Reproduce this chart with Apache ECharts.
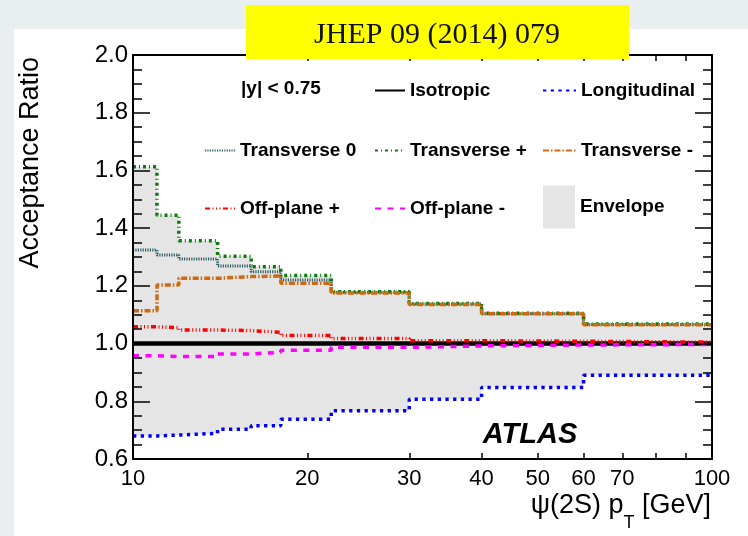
<!DOCTYPE html>
<html>
<head>
<meta charset="utf-8">
<script src="https://cdn.jsdelivr.net/npm/echarts@6/dist/echarts.min.js"></script>
<style>
  html, body { margin: 0; padding: 0; background: #e9eff0; }
  #chart { width: 748px; height: 536px; }
</style>
</head>
<body>
<div id="chart"></div>
<script>
// pT bin edges [GeV] and axis tick/label values
const binEdges = [10, 11, 12, 14, 16, 18, 22, 30, 40, 60, 100];
const xTickValues = [20, 30, 40, 50, 60, 70, 80, 90];
const xLabelValues = [10, 20, 30, 40, 50, 60, 70, 100];

// Acceptance ratio per pT bin for each spin-alignment scenario
const isotropic       = [1.000, 1.000, 1.000, 1.000, 1.000, 1.000, 1.000, 1.000, 1.000, 1.000];
const longitudinal    = [0.680, 0.683, 0.689, 0.703, 0.715, 0.738, 0.767, 0.807, 0.848, 0.890];
const transverse0     = [1.324, 1.307, 1.293, 1.269, 1.249, 1.220, 1.178, 1.137, 1.103, 1.066];
const transversePlus  = [1.613, 1.445, 1.356, 1.303, 1.266, 1.236, 1.180, 1.139, 1.105, 1.068];
const transverseMinus = [1.114, 1.203, 1.226, 1.232, 1.234, 1.209, 1.175, 1.135, 1.103, 1.065];
const offPlanePlus    = [1.058, 1.055, 1.047, 1.045, 1.039, 1.028, 1.018, 1.010, 1.008, 1.005];
const offPlaneMinus   = [0.958, 0.955, 0.955, 0.964, 0.970, 0.977, 0.987, 0.992, 0.995, 0.997];

const FONT = '"Liberation Sans", Arial, Helvetica, sans-serif';
const ENVELOPE_GREY = '#e5e5e5';

const curves = [
  { name: 'Isotropic',     values: isotropic,       color: '#000000', width: 4.5, dash: 'solid' },
  { name: 'Longitudinal',  values: longitudinal,    color: '#0000ff', width: 3.5, dash: [3.3, 4.4] },
  { name: 'Transverse 0',  values: transverse0,     color: '#2f5f66', width: 3,   dash: [1.2, 1.2] },
  { name: 'Transverse +',  values: transversePlus,  color: '#0d7a0d', width: 3.5, dash: [3, 3, 1, 3] },
  { name: 'Transverse -',  values: transverseMinus, color: '#d06a10', width: 3.5, dash: [6, 2, 1.5, 2] },
  { name: 'Off-plane +',   values: offPlanePlus,    color: '#ff0000', width: 3.5, dash: [5, 2.5, 1, 2.5, 1, 2.5, 1, 2.5] },
  { name: 'Off-plane -',   values: offPlaneMinus,   color: '#ff00ff', width: 3.5, dash: [6, 6.5] }
];

// histogram-style points: one point per lower bin edge plus the final upper edge
function steps(vals) {
  const pts = vals.map((v, i) => [binEdges[i], v]);
  pts.push([binEdges[vals.length], vals[vals.length - 1]]);
  return pts;
}

// envelope spanning all scenarios: grey down from the upper edge, white below the lower edge
const envLow = isotropic.map((_, i) => Math.min(...curves.map(c => c.values[i])));
const envHigh = isotropic.map((_, i) => Math.max(...curves.map(c => c.values[i])));

const series = [
  {
    name: 'Envelope', type: 'line', step: 'end', data: steps(envHigh),
    symbol: 'none', silent: true, z: 1, lineStyle: { width: 0, opacity: 0 },
    itemStyle: { color: ENVELOPE_GREY },
    areaStyle: { color: ENVELOPE_GREY, opacity: 1, origin: 'start' }
  },
  {
    name: 'envelopeLower', type: 'line', step: 'end', data: steps(envLow),
    symbol: 'none', silent: true, z: 2, lineStyle: { width: 0, opacity: 0 },
    areaStyle: { color: '#ffffff', opacity: 1, origin: 'start' }
  }
].concat(curves.map((c, k) => ({
  name: c.name, type: 'line', step: 'end', data: steps(c.values),
  symbol: 'none', silent: true, z: 3 + k,
  lineStyle: { color: c.color, width: c.width, type: c.dash, cap: 'butt' },
  itemStyle: { color: c.color }
})));

const legendText = { fontFamily: FONT, fontSize: 19, fontWeight: 'bold', color: '#000' };

function legendAt(name, iconLeft, centerY, iw, ih, boxIcon) {
  const cfg = {
    data: [boxIcon ? { name: name, icon: 'rect', itemStyle: { color: ENVELOPE_GREY, opacity: 1, borderWidth: 0 } } : name],
    left: iconLeft, top: centerY - ih / 2, padding: 0,
    itemWidth: iw, itemHeight: ih, selectedMode: false,
    textStyle: legendText
  };
  if (!boxIcon) cfg.itemStyle = { opacity: 0 };
  return cfg;
}

const legends = [
  legendAt('Isotropic',    374, 89, 30, 16),
  legendAt('Longitudinal', 542, 89, 33, 16),
  legendAt('Transverse 0', 204, 149, 30, 16),
  legendAt('Transverse +', 374, 149, 30, 16),
  legendAt('Transverse -', 542, 149, 33, 16),
  legendAt('Off-plane +',  204, 207, 30, 16),
  legendAt('Off-plane -',  374, 207, 30, 16),
  legendAt('Envelope',     543, 207, 32, 43, true)
];

const axisLineStyle = { color: '#000', width: 2 };
const tickStyle = { color: '#000', width: 1.5 };

function xAxisCfg(pos, showLabels) {
  return {
    type: 'log', logBase: 10, min: 10, max: 100, position: pos, z: 20,
    axisLine: { show: true, onZero: false, lineStyle: axisLineStyle },
    axisTick: { show: true, inside: true, length: 6, lineStyle: tickStyle, customValues: xTickValues },
    minorTick: { show: false },
    splitLine: { show: false },
    axisLabel: {
      show: showLabels, customValues: xLabelValues, margin: 9,
      fontFamily: FONT, fontSize: 22, color: '#000',
      showMinLabel: true, showMaxLabel: true
    }
  };
}

function yAxisCfg(pos, showLabels) {
  return {
    type: 'value', min: 0.6, max: 2.0, interval: 0.2, position: pos, z: 20,
    axisLine: { show: true, onZero: false, lineStyle: axisLineStyle },
    axisTick: { show: true, inside: true, length: 17, lineStyle: tickStyle },
    minorTick: { show: true, splitNumber: 4, length: 9, lineStyle: tickStyle },
    splitLine: { show: false },
    axisLabel: {
      show: showLabels, margin: 5, fontFamily: FONT, fontSize: 24, color: '#000',
      formatter: v => v.toFixed(1)
    }
  };
}

// x-axis title pieces: "ψ(2S) p", subscript "T", " [GeV]" laid out right to left
const titleFont = '27px ' + FONT;
const subFont = '18px ' + FONT;
const measureCtx = document.createElement('canvas').getContext('2d');
function textWidth(str, font) { measureCtx.font = font; return measureCtx.measureText(str).width; }
const titleRight = 711;
const unitW = textWidth(' [GeV]', titleFont);
const subW = textWidth('T', subFont);

const chart = echarts.init(document.getElementById('chart'), null, { renderer: 'canvas' });
chart.setOption({
  animation: false,
  backgroundColor: '#e9eff0',
  grid: { left: 133, right: 36, top: 55, bottom: 77, containLabel: false },
  xAxis: [xAxisCfg('bottom', true), xAxisCfg('top', false)],
  yAxis: [yAxisCfg('left', true), yAxisCfg('right', false)],
  legend: legends,
  series: series,
  graphic: [
    { type: 'rect', z: -10, silent: true, shape: { x: 14, y: 29, width: 734, height: 507 }, style: { fill: '#ffffff' } },
    { type: 'rect', z: 100, silent: true, shape: { x: 246, y: 5, width: 383, height: 54 }, style: { fill: '#ffff00' } },
    { type: 'text', z: 101, silent: true, x: 437, y: 35,
      style: { text: 'JHEP 09 (2014) 079', align: 'center', verticalAlign: 'middle',
               font: '30px "Liberation Serif", "DejaVu Serif", serif', fill: '#111' } },
    { type: 'text', z: 50, silent: true, x: 241, y: 89,
      style: { text: '|y| < 0.75', align: 'left', verticalAlign: 'middle',
               font: 'bold 19px ' + FONT, fill: '#000' } },
    { type: 'text', z: 50, silent: true, x: 530, y: 435,
      style: { text: 'ATLAS', align: 'center', verticalAlign: 'middle',
               font: 'italic bold 29px ' + FONT, fill: '#000' } },
    { type: 'text', z: 50, silent: true, x: 31, y: 57, rotation: Math.PI / 2,
      style: { text: 'Acceptance Ratio', align: 'right', verticalAlign: 'middle',
               font: '27px ' + FONT, fill: '#000' } },
    { type: 'text', z: 50, silent: true, x: titleRight, y: 506,
      style: { text: ' [GeV]', align: 'right', verticalAlign: 'middle', font: titleFont, fill: '#000' } },
    { type: 'text', z: 50, silent: true, x: titleRight - unitW, y: 523,
      style: { text: 'T', align: 'right', verticalAlign: 'middle', font: subFont, fill: '#000' } },
    { type: 'text', z: 50, silent: true, x: titleRight - unitW - subW, y: 506,
      style: { text: 'ψ(2S) p', align: 'right', verticalAlign: 'middle', font: titleFont, fill: '#000' } }
  ]
});
</script>
</body>
</html>
